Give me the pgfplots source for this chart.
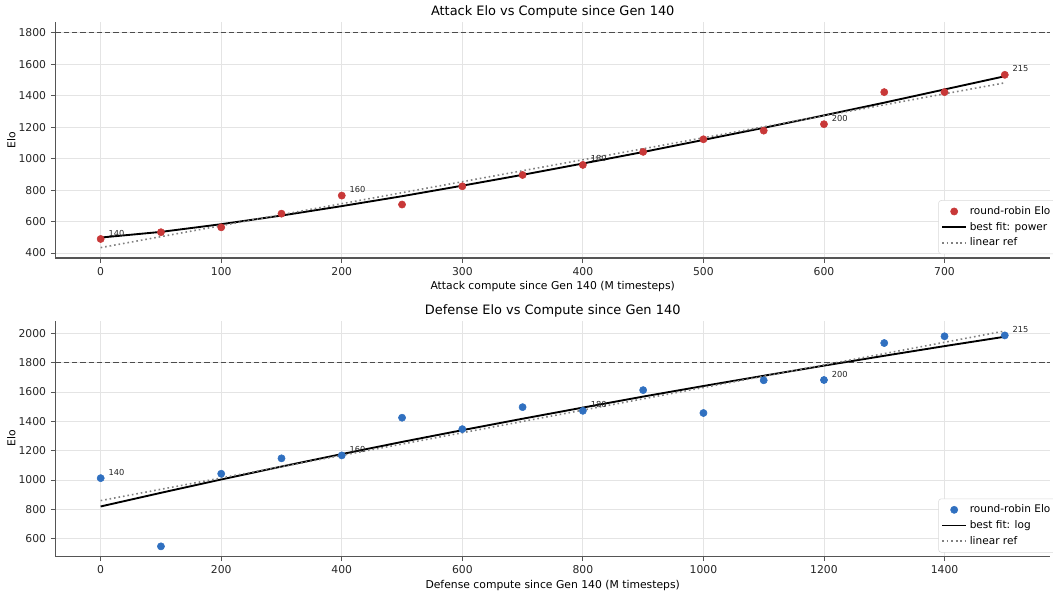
\documentclass[border=0pt]{standalone}
\usepackage{fontspec}
\setmainfont{DejaVu Sans}
\usepackage{pgfplots}
\pgfplotsset{compat=1.18}
\usepackage{pgfplotstable}

\definecolor{atkred}{RGB}{200,56,56}
\definecolor{defblue}{RGB}{48,112,192}
\definecolor{spine}{RGB}{85,85,85}
\definecolor{gridc}{RGB}{228,228,228}

\pgfplotstableread{
x y
0 489
50 532
100 563
150 650
200 765
250 708
300 824
350 896
400 960
450 1043
500 1123
550 1178
600 1219
650 1423
700 1423
750 1533
}\attack

\pgfplotstableread{
x y
0 498
50 534
100 583
150 638
200 698
250 761
300 828
350 897
400 969
450 1042
500 1119
550 1196
600 1275
650 1356
700 1440
750 1524
}\attackfit

\pgfplotstableread{
x y
0 434
750 1482
}\attacklin

\pgfplotstableread{
x y label
0 489 140
200 765 160
400 960 180
600 1219 200
750 1533 215
}\attacklab

\pgfplotstableread{
x y
0 1013
100 548
200 1043
300 1148
400 1168
500 1425
600 1347
700 1497
800 1472
900 1613
1000 1457
1100 1680
1200 1682
1300 1934
1400 1980
1500 1986
}\defense

\pgfplotstableread{
x y
0 820
100 913
200 1004
300 1092
400 1177
500 1260
600 1340
700 1418
800 1494
900 1569
1000 1641
1100 1711
1200 1780
1300 1847
1400 1913
1500 1977
}\defensefit

\pgfplotstableread{
x y
0 860
1500 2016
}\defenselin

\pgfplotstableread{
x y label
0 1013 140
400 1168 160
800 1472 180
1200 1682 200
1500 1986 215
}\defenselab

\pgfplotsset{
  mystyle/.style={
    scale only axis,
    width=745.9pt,
    anchor=south west,
    axis lines=left,
    axis line style={-, draw=spine, line width=0.9pt},
    tick align=outside,
    major tick length=3.5pt,
    tick style={draw=spine, line width=0.7pt},
    grid=major,
    major grid style={draw=gridc, line width=0.6pt},
    ticklabel style={font=\fontsize{8.1}{9.7}\selectfont, text=black!85},
    /pgf/number format/assume math mode=true,
    /pgf/number format/1000 sep={},
    label style={font=\fontsize{8.1}{9.7}\selectfont},
    every axis title shift=0pt,
    title style={font=\fontsize{9.7}{11.6}\selectfont, anchor=base},
    ylabel={Elo},
    legend cell align=left,
    legend style={font=\fontsize{7.9}{9.5}\selectfont, draw=black!15, rounded corners=2pt,
      fill=white, anchor=south east,
      inner xsep=2pt, inner ysep=2.5pt, row sep=0.3pt},
    legend image code/.code={\draw[mark repeat=2,mark phase=2,##1] plot coordinates {(0pt,0pt) (9pt,0pt) (18pt,0pt)};},
    clip=false,
  },
  pts/.style={only marks, mark=*, mark size=2.7pt, color=#1},
  fitline/.style={color=black, line width=1.4pt, no marks},
  linref/.style={color=black!50, line width=1.2pt, dash pattern=on 1.2pt off 2.2pt, no marks},
  hline/.style={color=black!70, line width=0.9pt, dash pattern=on 4pt off 2.2pt, no marks, forget plot},
  labs/.style={only marks, mark=none, forget plot, nodes near coords, point meta=explicit symbolic,
    nodes near coords style={anchor=base west, font=\fontsize{6.2}{7}\selectfont, text=black!85, xshift=2.4pt, yshift=2.2pt}},
}

\begin{document}
\begin{tikzpicture}
\useasboundingbox (0,0) rectangle (789.75pt,447.75pt);

\begin{axis}[mystyle,
  at={(41.6pt,254.25pt)}, height=177pt,
  xmin=-37.5, xmax=787.5, ymin=368, ymax=1869,
  xtick={0,100,...,700}, ytick={400,600,...,1800},
  title={Attack Elo vs Compute since Gen 140},
  title style={at={(axis description cs:0.5,1.0277)}},
  xlabel={Attack compute since Gen 140 (M timesteps)},
  xlabel style={at={(axis description cs:0.5,-0.134)}, anchor=base},
  ylabel style={at={(axis description cs:-0.0402,0.5)}, anchor=base},
  legend style={at={(axis description cs:1.006,0.016)}},
]
\addplot[hline] coordinates {(-37.5,1800) (787.5,1800)};
\addplot[pts=atkred] table[x=x,y=y] {\attack};
\addlegendentry{round-robin Elo}
\addplot[fitline] table[x=x,y=y] {\attackfit};
\addlegendentry{best fit: power}
\addplot[linref] table[x=x,y=y] {\attacklin};
\addlegendentry{linear ref}
\addplot[labs] table[x=x,y=y,meta=label] {\attacklab};
\end{axis}

\begin{axis}[mystyle,
  at={(41.6pt,30.5pt)}, height=176.7pt,
  xmin=-75, xmax=1575, ymin=480, ymax=2086,
  xtick={0,200,...,1400}, ytick={600,800,...,2000},
  title={Defense Elo vs Compute since Gen 140},
  title style={at={(axis description cs:0.5,1.0263)}},
  xlabel={Defense compute since Gen 140 (M timesteps)},
  xlabel style={at={(axis description cs:0.5,-0.135)}, anchor=base},
  ylabel style={at={(axis description cs:-0.0402,0.5)}, anchor=base},
  legend style={at={(axis description cs:1.006,0.016)}},
]
\addplot[hline] coordinates {(-75,1800) (1575,1800)};
\addplot[pts=defblue] table[x=x,y=y] {\defense};
\addlegendentry{round-robin Elo}
\addplot[fitline] table[x=x,y=y] {\defensefit};
\addlegendentry{best fit: log}
\addplot[linref] table[x=x,y=y] {\defenselin};
\addlegendentry{linear ref}
\addplot[labs] table[x=x,y=y,meta=label] {\defenselab};
\end{axis}
\end{tikzpicture}
\end{document}
